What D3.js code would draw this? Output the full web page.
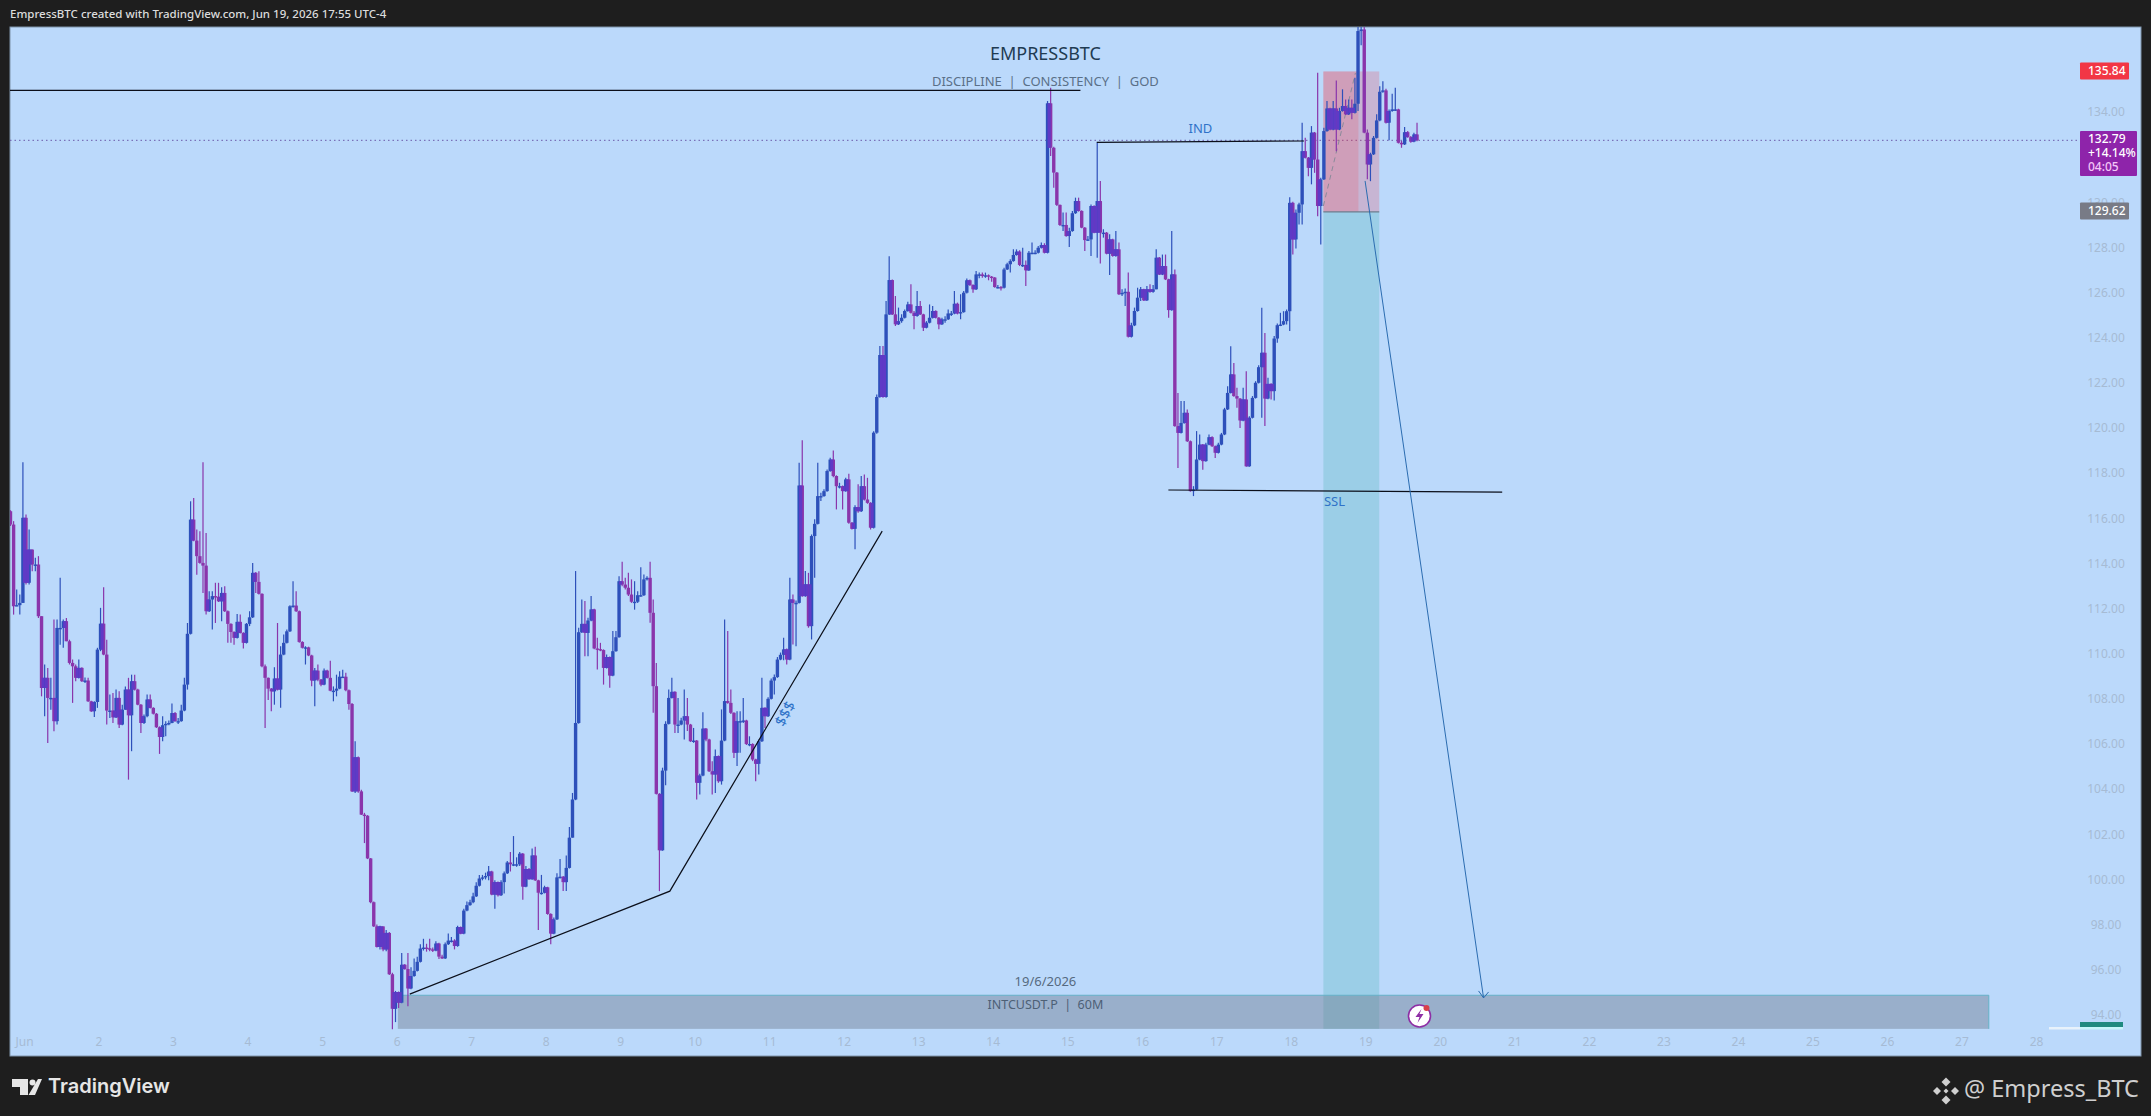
<!DOCTYPE html>
<html><head><meta charset="utf-8">
<script src="https://cdn.jsdelivr.net/npm/d3@7/dist/d3.min.js"></script>
<style>html,body{margin:0;padding:0;background:#1e1e1e;overflow:hidden}svg{display:block}text{font-family:"Noto Sans",sans-serif}</style>
</head><body><div id="chart"></div>
<script>
const firstOpen = 116.36;
const closes = [
115.77,112.15,112.2,112.3,116.07,113.19,114.66,114,114,111.71,108.53,108.98,108.09,108.09,107.06,111.19,111.19,111.49,110.6,109.64,
109.49,108.98,109.42,108.83,108.86,107.94,107.5,107.91,110.23,111.38,110.01,107.53,107.53,107.23,108.09,106.91,107.57,108.46,107.32,108.83,
108.46,107.79,106.98,107.28,108.02,107.65,107.39,106.79,106.36,106.88,106.94,106.98,107.42,107.06,107.06,107.53,108.68,110.93,115.99,115.06,
114.37,114.07,113.95,111.93,112.45,112.6,112.57,112.37,112.74,111.93,111.37,111.01,110.75,111.46,110.97,110.53,111.37,111.66,113.63,113.23,
112.7,109.49,108.98,108.5,108.38,108.95,108.46,110.01,110.53,111.04,112.15,112.18,111.93,110.57,110.31,110.33,109.97,108.86,109.3,108.9,
108.68,109.3,108.98,108.41,108.41,108.5,109.03,109.03,108.43,107.82,103.95,105.46,103.95,
102.92,102.87,100.98,99.04,97.97,97.06,97.97,96.95,97.68,95.85,94.32,95.06,94.59,96.27,96.08,95.22,95.77,96,96.4,96.99,97.03,97,
96.95,96.9,97.21,96.63,96.55,97.18,97.34,97.34,97.1,97.94,97.65,98.67,98.91,99.04,99.3,99.77,100.09,100.14,100.2,100.4,99.38,99.93,99.35,
99.93,100.32,100.8,100.72,100.72,100.72,101.19,99.73,100.51,100.06,101.11,100.01,99.46,99.46,99.7,98.52,97.65,98.28,100.14,100.17,99.93,100.56,101.9,
103.59,106.98,111,111.37,110.97,111.52,112.01,110.28,110.25,110.21,109.42,109.9,109.08,110.16,110.78,113.26,113.11,112.97,112.67,112.35,
112.35,112.64,112.64,113.34,113.41,111.86,108.61,103.84,101.34,104.87,106.94,108.09,108.36,106.91,106.91,107.09,107.28,106.91,106.17,106.2,
104.33,104.65,106.73,106.25,104.84,104.7,105.51,104.4,106.2,107.95,107.87,107.43,105.66,107.06,107.06,107.09,106.05,106.05,105.36,105.17,
106.17,107.65,107.28,108.05,108.86,109.01,109.79,110,110.24,109.79,112.45,112.3,112.3,117.5,112.6,113.12,111.27,115.26,115.8,117.03,117.03,
117.25,118.14,118.65,117.92,117.47,117.47,117.25,117.77,115.85,115.58,116.54,116.36,117.47,116.88,116.73,115.63,119.84,
121.42,123.28,121.42,125.08,126.6,125.08,124.64,124.78,124.93,125.23,125.52,125.15,125.01,125.45,125.08,124.49,124.71,124.93,125.23,
124.93,124.64,124.86,124.86,125.12,125.12,125.55,125.12,125.18,126.04,126.59,126.38,126.19,126.85,126.85,126.78,126.81,126.75,126.71,126.29,
126.29,126.26,127.07,127.3,127.44,127.71,127.86,127.27,127.27,127.03,127.81,127.81,127.81,128.03,128.15,127.81,134.43,132.46,131.36,129.93,
129.04,129.04,128.55,128.77,129.56,130.1,129.66,128.92,128.37,128.4,129.88,128.7,130.1,128.7,128.7,127.77,128.4,127.67,127.96,125.97,
126.03,126.08,124.09,124.59,125.23,125.82,126.19,125.7,126.19,126.08,126.19,127.59,126.85,
127.22,126.63,125.27,126.85,120.13,119.83,120.27,120.72,119.46,117.25,117.32,118.65,119.31,118.58,119.31,119.64,119.24,118.95,119.31,119.76,
120.87,121.6,122.42,121.46,121.35,120.38,121.31,118.35,120.5,121.38,122.05,122.74,123.38,121.35,122,121.68,124.01,124.6,124.63,124.78,
125.22,130.02,128.4,129.58,129.95,
132.31,132.02,131.57,133.13,131.94,129.88,131.06,133.2,134.2,133.27,134.2,133.27,134.09,134.31,133.94,134.23,134.01,134.41,137.63,137.7,
133.13,131.72,132.17,132.9,133.67,134.94,135,133.57,134.09,134.16,134.16,132.68,132.61,133.15,132.93,132.73,133.05,132.79
];
const highs = [
116.4,115.92,112.89,112.67,118.53,116.21,115.55,114.66,114.3,114.37,111.71,109.57,109.42,108.98,111.56,111.56,113.41,111.56,111.63,110.67,
109.79,109.57,109.79,109.45,109,108.98,107.97,107.94,110.31,112.08,112.99,110.67,108.24,108.31,108.46,108.38,107.79,108.6,108.98,109.12,
109.12,108.5,107.82,107.35,108.24,108.24,107.68,107.42,106.83,107.28,107.06,107.09,107.84,107.47,107.2,107.79,108.98,111.41,116.8,116.95,
115.55,115.47,118.53,115.4,112.82,112.82,113.19,113.19,112.99,113.04,111.96,111.4,111.04,111.81,111.78,111,111.41,111.93,114.07,113.67,
113.7,112.73,109.57,109,108.53,109.45,111.41,110.38,110.9,111.12,112.2,113.26,112.82,111.96,110.6,110.38,110.36,110,109.42,109.57,
108.93,109.39,109.34,109.74,108.6,109.12,109.27,109.34,109.2,108.46,107.87,106.17,105.49,
104.02,103,102.9,101,99.07,98.05,98,97.81,97.81,97.72,95.92,95.11,95.09,96.79,96.3,96.79,96.16,96.55,96.63,97.18,97.42,97.2,
97.42,97.03,97.31,97.24,96.71,97.26,97.65,97.5,97.4,98,97.97,98.75,99.07,99.15,99.46,99.93,100.25,100.25,100.35,100.64,100.43,100.01,99.96,
100.01,100.4,100.87,101.27,101.97,101.03,101.27,101.22,100.64,100.56,101.42,101.5,100.04,100.25,99.77,99.73,98.55,98.36,100.32,100.95,100.2,101.11,102.37,
103.88,113.71,111.2,112.45,112.38,111.64,112.6,112.04,110.75,110.53,110.24,110.01,109.92,111.05,111.05,113.48,114.12,113.41,113.63,113.34,
113.26,112.82,113.88,113.56,113.48,114.12,112.45,109.64,103.87,105,107.06,108.46,108.98,108.39,108.09,107.21,108.46,108.09,106.94,106.76,
106.23,104.73,107.46,106.76,106.28,105.29,105.8,105.54,107.58,111.56,111.05,108.46,107.46,107.5,107.5,108.09,107.12,106.39,106.08,105.39,
106.25,108.98,107.68,108.12,108.95,109.13,109.9,110.1,110.75,110.28,113.41,112.67,112.41,118.51,119.5,113.71,113.63,115.33,116,118.51,117.18,
117.33,118.21,118.73,119.05,117.95,117.62,117.5,117.84,118.02,115.88,116.63,117.55,117.92,117.99,117.84,116.76,119.9,
121.53,123.68,123.68,125.67,127.66,126.63,125.89,125.38,125.08,125.3,125.64,126.41,125.23,126.11,125.67,125.11,124.78,125.52,125.45,
125.26,124.96,124.93,125,125.3,125.23,126.11,125.6,125.97,126.11,126.67,126.62,126.41,127,126.93,126.93,126.93,126.85,126.78,126.73,
126.38,126.34,127.15,127.37,127.52,127.96,127.96,127.92,128.03,127.47,127.89,128.26,127.92,128.11,128.26,128.23,134.53,135.12,132.5,131.39,
129.95,129.59,129.59,128.92,129.66,130.25,130.25,129.69,128.95,128.55,129.95,129.91,132.7,130.99,128.85,128.73,128.63,128.43,128.77,128.26,
126.19,126.23,126.93,124.71,125.38,126.26,126.29,126.22,126.34,126.41,126.38,127.96,127.62,
127.73,127.73,126.66,128.77,127.07,121.6,121.24,121.24,120.87,119.49,117.47,119.91,119.76,119.34,119.39,119.76,119.68,119.27,119.39,119.83,
120.94,121.9,123.67,122.93,121.83,121.38,121.83,122.56,120.57,121.46,122.12,122.83,125.37,124.26,122.27,122.03,124.12,124.68,125.15,125.22,
125.3,130.27,130.07,129.73,130.02,
133.57,132.9,132.05,133.42,133.16,135.78,131.13,133.35,134.53,134.23,134.53,135.44,134.23,135.05,134.6,134.6,134.6,135.56,137.85,137.9,
138.07,133.27,132.24,132.98,133.94,135.19,135.41,135.07,134.16,134.85,135.12,134.19,132.76,133.38,133.2,132.98,133.12,133.57
];
const lows = [
115.7,111.78,112.15,111.78,112.3,113.11,113.11,113.7,113.7,111.63,108.16,107.28,106.09,107.57,106.61,106.91,110.45,110.31,110.6,109.57,
107.87,108.83,108.95,108.8,108.75,107.91,107.47,107.25,107.65,110.16,109.98,106.91,107.2,106.98,107.2,106.76,106.88,107.57,104.47,105.73,
108.42,107.76,106.54,106.94,107.23,107.62,107.35,106.76,105.61,106.17,106.39,106.88,106.97,107.03,106.94,107.03,107.5,108.46,110.9,115.03,
113.55,114.03,112.74,111.78,111.9,111.12,111.41,112.34,111.49,111.9,110.53,110.53,110.45,110.72,110.94,110.28,110.5,111.27,111.63,112.74,
112.67,109.45,106.76,108,107.5,107.79,108.42,107.65,109.98,110.5,111.01,112.08,111.9,110.53,110.28,109.57,109.94,108.61,107.72,108.83,
108.61,108.65,108.95,108.38,107.94,108.16,108.47,108.98,108.38,107.57,103.92,103.88,103.89,
102.9,101.66,100.95,98.99,97.94,97.03,96.95,96.87,96.87,95.82,93.41,93.73,94.35,94.56,96.05,94.43,95.19,95.74,95.97,96.37,96.9,96.85,
96.87,96.84,96.87,96.52,96.52,96.52,97.15,97.26,96.95,97.07,97.62,97.62,98.64,98.88,99,99.27,99.74,100.01,100.05,100.01,99.35,98.75,99.29,
99.32,99.43,100.29,100.4,100.64,100.61,100.64,99.15,99.7,100.03,100.03,99.98,97.81,99.38,99.43,98.49,97.18,97.62,98.25,100.09,99.54,99.54,100.53,
101.9,103.56,106.95,110.97,109.94,109.94,111.49,110.25,109.35,110.16,108.68,109.39,108.54,109.05,110.13,110.75,113.04,112.89,112.6,112.3,
112,112.3,112.57,112.6,113.29,111.42,107.43,103.81,99.53,101.32,104.22,106.91,108.06,106.54,106.54,106.88,106.25,106.62,106.14,106.1,
103.59,103.81,104.62,106.17,104.81,103.81,103.88,104.33,104.25,106.17,107.83,107.38,105.43,105.07,105.66,106.98,106,105.95,105.29,104.4,
104.7,106.14,106.76,107.25,108.02,108.24,108.98,109.76,109.76,109.57,109.76,110.46,110.38,112.27,112.57,112.57,111.2,110.68,113.41,115.77,116.81,
117,117.22,118.11,117.87,116.44,117.37,116.44,117.22,115.8,115.55,114.67,116.29,116.33,116.84,116.69,115.55,115.6,
119.79,121.39,121.39,121.39,125.05,125.05,124.56,124.61,124.71,124.9,125.2,125.12,124.42,124.98,125.05,124.34,124.46,124.68,124.9,
124.9,124.42,124.61,124.71,124.83,125.01,125.08,125.08,124.86,125.15,126,126.34,126.04,126.16,126.68,126.7,126.7,126.59,126.53,126.26,
126.23,126.14,126.23,127.05,126.93,127.41,127.68,127.22,127.18,126.34,127,127.74,127.74,127.78,128,127.78,127.78,132.1,130.69,129.88,
129,128.77,128.52,128.06,128.74,129.53,129.63,128.89,127.89,128.33,127.67,128.67,127.59,127.33,128.48,127.74,126.82,127.63,127.63,125.94,
125.89,125.45,124.06,124.06,124.56,125.2,125.67,125.67,125.67,126.04,126.04,126.38,126.82,
126.82,126.6,124.93,125.24,120.1,118.28,119.8,120.24,119.43,117.22,117.03,117.29,118.62,118.2,118.55,119.28,119.21,118.72,118.92,119.28,
119.73,120.84,121.57,121.43,120.94,120.05,120.35,118.33,118.33,120.47,121.35,122.02,120.5,120.13,121.32,121.31,121.27,123.82,124.56,124.6,
124.63,124.34,127.73,128,129.06,
129.06,131.99,131.2,130.84,131.35,129.43,128.18,131.03,133.17,133.24,133.24,132.31,133.24,134.06,133.91,133.91,133.72,133.98,134.09,137,
133.1,131.06,130.98,132.14,132.87,133.64,134.9,133.54,132.79,134.06,134.09,132.65,132.46,132.58,132.9,132.68,132.7,132.75
];
const dayTicks = ["Jun","2","3","4","5","6","7","8","9","10","11","12","13","14","15","16","17","18","19","20","21","22","23","24","25","26","27","28"];
const priceTicks = [134,130,128,126,124,122,120,118,116,114,112,110,108,106,104,102,100,98,96,94];
const entryPrice = 129.62, stopPrice = 135.84, targetPrice = 93.43, lastPrice = 132.79;
const resistanceLine = [[0.8,135],[15.17,135]];
const indLine = [[15.39,132.7],[18.17,132.76]];
const sslLine = [[16.35,117.3],[20.83,117.21]];
const trendLine = [[6.17,94.97],[9.66,99.53],[12.51,115.48]];
const arrowLine = [[18.99,130.99],[20.58,94.8]];
const dashLine = [[18.43,129.88],[18.86,135.77]];
const positionDays = [18.43,18.9,19.18];
const bandDays = [6.01,27.36], bandPrices = [94.92,93.43];

const W=2151,H=1116, L=10,R=2141,T=27,B=1056;
const x=d3.scaleLinear().domain([1,28]).range([24.5,2036.5]);
const y=d3.scaleLinear().domain([134,94]).range([113,1016]);
const candleDay = i => 0.812 + i/24;
const svg=d3.select("#chart").append("svg").attr("width",W).attr("height",H);
svg.append("rect").attr("width",W).attr("height",H).attr("fill","#1e1e1e");
svg.append("rect").attr("x",L).attr("y",T).attr("width",R-L).attr("height",B-T).attr("fill","#bbd9fb").attr("stroke","#7f93aa").attr("stroke-width",1);
svg.append("defs").append("clipPath").attr("id","pane").append("rect").attr("x",L).attr("y",T).attr("width",R-L).attr("height",B-T);
const g=svg.append("g").attr("clip-path","url(#pane)");
const line=d3.line().x(d=>x(d[0])).y(d=>y(d[1]));

// axis labels
const axisCol="#a6bbd4";
g.selectAll(".dt").data(dayTicks).join("text").attr("x",(d,i)=>x(i+1)).attr("y",1043).attr("text-anchor","middle").attr("dominant-baseline","middle").attr("font-size",12).attr("fill",axisCol).text(d=>d);
g.selectAll(".pt").data(priceTicks).join("text").attr("x",2106).attr("y",d=>y(d)).attr("text-anchor","middle").attr("dominant-baseline","middle").attr("font-size",12).attr("fill",axisCol).text(d=>d.toFixed(2));

// last-price dotted line
g.append("line").attr("x1",L).attr("x2",2080).attr("y1",y(lastPrice)).attr("y2",y(lastPrice)).attr("stroke","#6a5aa8").attr("stroke-width",1).attr("stroke-dasharray","1.5 3");

// position tool
g.append("rect").attr("x",x(positionDays[0])).attr("width",x(positionDays[2])-x(positionDays[0])).attr("y",y(stopPrice)).attr("height",y(entryPrice)-y(stopPrice)).attr("fill","#f23645").attr("fill-opacity",.22);
g.append("rect").attr("x",x(positionDays[0])).attr("width",x(positionDays[1])-x(positionDays[0])).attr("y",y(stopPrice)).attr("height",y(entryPrice)-y(stopPrice)).attr("fill","#f23645").attr("fill-opacity",.18);
g.append("rect").attr("x",x(positionDays[0])).attr("width",x(positionDays[2])-x(positionDays[0])).attr("y",y(entryPrice)).attr("height",y(targetPrice)-y(entryPrice)).attr("fill","#26a69a").attr("fill-opacity",.21);
// band
g.append("rect").attr("x",x(bandDays[0])).attr("width",x(bandDays[1])-x(bandDays[0])).attr("y",y(bandPrices[0])).attr("height",y(bandPrices[1])-y(bandPrices[0])).attr("fill","#6e788c").attr("fill-opacity",.43);
g.append("line").attr("x1",x(bandDays[0])).attr("x2",x(bandDays[1])).attr("y1",y(bandPrices[0])).attr("y2",y(bandPrices[0])).attr("stroke","#66b2c8").attr("stroke-width",1.2);
g.append("line").attr("x1",x(bandDays[1])).attr("x2",x(bandDays[1])).attr("y1",y(bandPrices[0])).attr("y2",y(bandPrices[1])).attr("stroke","#66b2c8").attr("stroke-width",1);
g.append("path").attr("d",line(dashLine)).attr("fill","none").attr("stroke","#8a8a9a").attr("stroke-width",1).attr("stroke-dasharray","5 4");

// candles
const UP="#2d50ba", DOWN="#8a35ab", MIX="#5f3ac6";
const candles=closes.map((c,i)=>({i,o:i?closes[i-1]:firstOpen,c,h:highs[i],l:lows[i]}));
const cg=g.append("g");
cg.selectAll(".w").data(candles).join("line").attr("x1",d=>x(candleDay(d.i))).attr("x2",d=>x(candleDay(d.i))).attr("y1",d=>y(Math.max(d.h,d.o,d.c))).attr("y2",d=>y(Math.min(d.l,d.o,d.c))).attr("stroke",d=>d.c>=d.o?UP:DOWN).attr("stroke-width",1.2);
cg.selectAll(".b").data(candles).join("rect").attr("x",d=>x(candleDay(d.i))-1.7).attr("width",3.4).attr("y",d=>y(Math.max(d.o,d.c))).attr("height",d=>Math.max(1.4,Math.abs(y(d.o)-y(d.c)))).attr("fill",d=>d.c>=d.o?UP:DOWN);
// where neighbouring bodies touch, their colours blend into violet
const pairs=candles.slice(1).map((d,k)=>({a:candles[k],b:d,top:Math.min(Math.max(candles[k].o,candles[k].c),Math.max(d.o,d.c)),bot:Math.max(Math.min(candles[k].o,candles[k].c),Math.min(d.o,d.c))})).filter(p=>(p.a.c>=p.a.o)!==(p.b.c>=p.b.o)&&p.top-p.bot>0.1);
cg.selectAll(".m").data(pairs).join("rect").attr("x",p=>x(candleDay(p.a.i))).attr("width",p=>x(candleDay(p.b.i))-x(candleDay(p.a.i))).attr("y",p=>y(p.top)).attr("height",p=>y(p.bot)-y(p.top)).attr("fill",MIX);

// entry line
g.append("line").attr("x1",x(positionDays[0])).attr("x2",x(positionDays[2])).attr("y1",y(entryPrice)).attr("y2",y(entryPrice)).attr("stroke","#6e7d8e").attr("stroke-width",1.3);

// drawings
[resistanceLine,indLine,sslLine,trendLine].forEach(l=>g.append("path").attr("d",line(l)).attr("fill","none").attr("stroke","#0b0f1a").attr("stroke-width",1.2));
g.append("path").attr("d",line(arrowLine)).attr("fill","none").attr("stroke","#2b6cb0").attr("stroke-width",1);
{const [xa,ya]=[x(arrowLine[1][0]),y(arrowLine[1][1])];
 g.append("path").attr("d",`M${xa-5},${ya-7}L${xa},${ya}L${xa+5},${ya-6}`).attr("fill","none").attr("stroke","#2b6cb0").attr("stroke-width",1);}

const txt=(s,px,py,size,fill,anchor="middle",extra={})=>{const t=g.append("text").attr("x",px).attr("y",py).attr("font-size",size).attr("fill",fill).attr("text-anchor",anchor).attr("dominant-baseline","middle").text(s);Object.entries(extra).forEach(([k,v])=>t.attr(k,v));return t;};
const midX=x(14.7);
txt("EMPRESSBTC",midX,55,18,"#1f3b52");
txt("DISCIPLINE  |  CONSISTENCY  |  GOD",midX,83,13,"#5a7088","middle",{"xml:space":"preserve"});
txt("19/6/2026",midX,983,13,"#566a80");
txt("INTCUSDT.P  |  60M",midX,1006,12.5,"#4d6076","middle",{"xml:space":"preserve"});
txt("IND",x(16.78),130,13,"#2f72c8");
txt("SSL",x(18.58),503,13,"#2f72c8");
txt("$$$",x(11.22),y(107.37),15,"#2f72c8").attr("transform",`rotate(-62 ${x(11.22)} ${y(107.37)})`);

// bolt badge
{const bx=x(19.72),by=y(94);
 g.append("circle").attr("cx",bx).attr("cy",by).attr("r",11).attr("fill","#fff").attr("stroke","#8e2ea5").attr("stroke-width",1.6);
 g.append("path").attr("d",`M${bx+2},${by-7}L${bx-4},${by+1}L${bx},${by+1}L${bx-2},${by+7}L${bx+4},${by-2}L${bx},${by-2}Z`).attr("fill","#8e2ea5");
 g.append("circle").attr("cx",bx+7).attr("cy",by-8).attr("r",3).attr("fill","#d9404a");}

// small volume-like bars
g.append("rect").attr("x",2080).attr("y",1022).attr("width",43).attr("height",5).attr("fill","#1e8a80");
g.append("rect").attr("x",2049).attr("y",1027).attr("width",31).attr("height",2.5).attr("fill","#e8f2fb");
g.append("rect").attr("x",2080).attr("y",1027).attr("width",43).attr("height",2.5).attr("fill","#c6f6fb");

// price tags
const tag=(x0,y0,w,h,fill)=>svg.append("rect").attr("x",x0).attr("y",y0).attr("width",w).attr("height",h).attr("fill",fill).attr("rx",1);
const tagTxt=(s,yy,fill="#fff")=>svg.append("text").attr("x",2088).attr("y",yy).attr("font-size",12).attr("font-weight",500).attr("fill",fill).attr("dominant-baseline","middle").text(s);
tag(2080,62.5,49,17,"#f23645"); tagTxt(stopPrice.toFixed(2),71.5);
tag(2080,202.5,49,17,"#787b86"); tagTxt(entryPrice.toFixed(2),211.5);
tag(2080,131,57,45,"#8e24aa"); tagTxt(lastPrice.toFixed(2),140); tagTxt("+14.14%",154); tagTxt("04:05",168,"#f3c5f7");

// header and footer
svg.append("text").attr("x",10).attr("y",15).attr("font-size",11.5).attr("font-weight",500).attr("fill","#dcdcdc").attr("dominant-baseline","middle").text("EmpressBTC created with TradingView.com, Jun 19, 2026 17:55 UTC-4");
svg.append("path").attr("d","M12,1079H28V1095H20V1087H12Z M38,1079H42L35,1095H28.5Z").attr("fill","#e6e6e6");
svg.append("circle").attr("cx",32.5).attr("cy",1082.5).attr("r",3).attr("fill","#e6e6e6");
svg.append("text").attr("x",48).attr("y",1088).style("font-family","Inter").attr("font-size",20).attr("font-weight",600).attr("fill","#e6e6e6").attr("dominant-baseline","middle").text("TradingView");
{const c=[1946,1091];const dia=(dx,dy,r)=>svg.append("path").attr("d",`M${c[0]+dx},${c[1]+dy-r}l${r},${r}l${-r},${r}l${-r},${-r}Z`).attr("fill","#d0d0d0");
 dia(0,-9,4.5);dia(-9,0,4);dia(9,0,4);dia(0,9,4.5);dia(0,0,2.5);}
svg.append("text").attr("x",1964).attr("y",1091).attr("font-size",23.5).attr("fill","#cfcfcf").attr("dominant-baseline","middle").text("@ Empress_BTC");
</script>
</body></html>
